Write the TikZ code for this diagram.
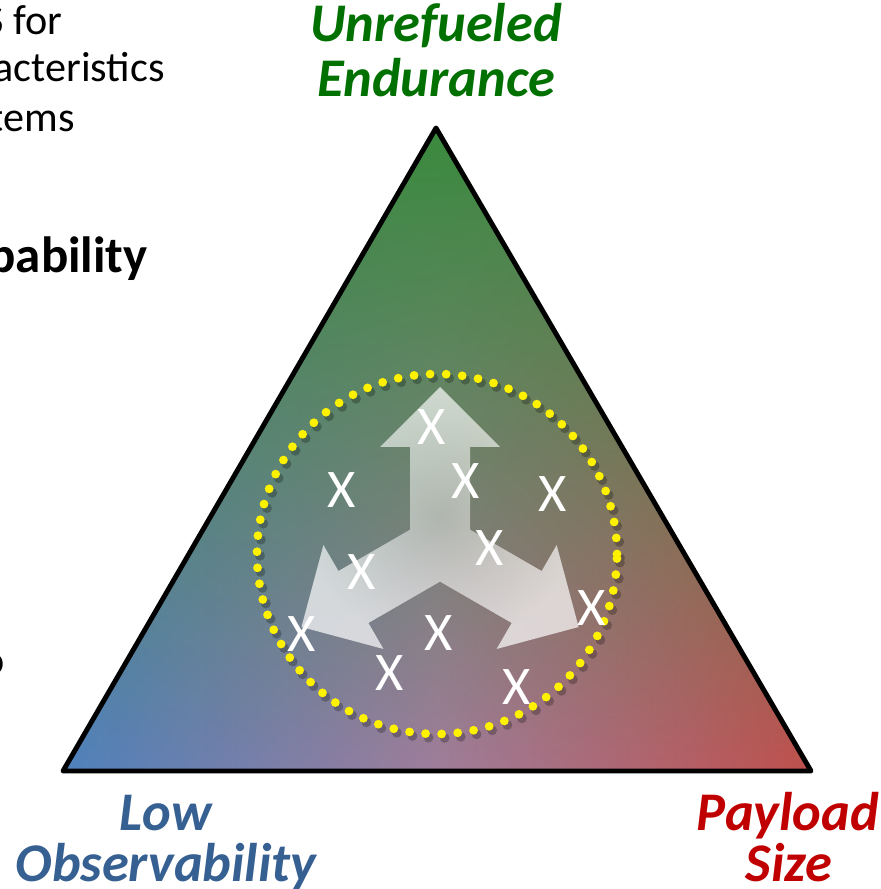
\documentclass[tikz,border=0pt]{standalone}
\usepackage{fontspec}
\setmainfont{Carlito}
\usetikzlibrary{fadings}
\definecolor{apexgreen}{RGB}{58,138,62}
\definecolor{cornerblue}{RGB}{79,129,189}
\definecolor{cornerred}{RGB}{192,80,77}
\definecolor{basemauve}{RGB}{160,125,155}
\definecolor{labelgreen}{RGB}{0,112,0}
\definecolor{labelblue}{RGB}{54,96,146}
\definecolor{labelred}{RGB}{192,0,0}
\tikzfading[name=greentop, top color=transparent!0, bottom color=transparent!100]
\tikzfading[name=armglow, inner color=transparent!58, outer color=transparent!30]
\begin{document}
\begin{tikzpicture}[x=0.02cm,y=0.02cm,
  xmark/.style={text=white,inner sep=0pt,font=\fontsize{31}{31}\selectfont},
  corner/.style={anchor=base,inner sep=0pt,font=\fontsize{31}{33}\selectfont\bfseries\itshape},
  slidetext/.style={anchor=base east,inner sep=0pt,font=\fontsize{24}{24}\selectfont}]
\useasboundingbox (0,0) rectangle (881,889);
\coordinate (top) at (436,761);
\coordinate (left) at (63,118);
\coordinate (right) at (811,118);
\coordinate (hub) at (440,342);
\coordinate (ring) at (437,335);

\shade[left color=cornerblue, right color=cornerred, middle color=basemauve] (top) -- (left) -- (right) -- cycle;
\fill[apexgreen, path fading=greentop] (top) -- (left) -- (right) -- cycle;
\draw[line width=2.8pt, line join=round] (top) -- (left) -- (right) -- cycle;

\draw[black, opacity=0.25, line width=5.6pt, line cap=round, dash pattern=on 0pt off 9.16pt] ([shift={(3,-4)}]ring) circle (180);
\draw[yellow, line width=5pt, line cap=round, dash pattern=on 0pt off 9.16pt] (ring) circle (180);

\fill[white, path fading=armglow] ([shift={(hub)},rotate=90]17.3,-30)
  \foreach \a in {90,210,330}{
    -- ([shift={(hub)},rotate=\a]100,-30) -- ([shift={(hub)},rotate=\a]100,-60)
    -- ([shift={(hub)},rotate=\a]160,0) -- ([shift={(hub)},rotate=\a]100,60)
    -- ([shift={(hub)},rotate=\a]100,30) -- ([shift={(hub)},rotate=\a]17.3,30)
  } -- cycle;

\foreach \p [count=\i] in {(432,462),(342,399),(466,408),(553,395),(490,341),(362,317),(592,281),(302,255),(439,256),(390,216),(517,202)}
  \node[xmark] (x\i) at \p {X};

\node[corner, text=labelgreen] (unref) at (436,847) {Unrefueled};
\node[corner, text=labelgreen] (endur) at (436,792) {Endurance};
\node[corner, text=labelblue] (low) at (166,58) {Low};
\node[corner, text=labelblue] (obs) at (166,8) {Observability};
\node[corner, text=labelred] (payload) at (788,58) {Payload};
\node[corner, text=labelred] (size) at (789,8) {Size};

\begin{scope}
\clip (0,0) rectangle (881,889);
\node[slidetext] (line1) at (63,854) {S for};
\node[slidetext] (line2) at (165,807) {acteristics};
\node[slidetext] (line3) at (75,757) {tems};
\node[slidetext, font=\fontsize{29}{29}\selectfont\bfseries] (line4) at (148,616) {bability};
\node[slidetext] (line5) at (3,564) {:};
\node[slidetext] (line6) at (5,214) {o};
\end{scope}
\end{tikzpicture}
\end{document}
